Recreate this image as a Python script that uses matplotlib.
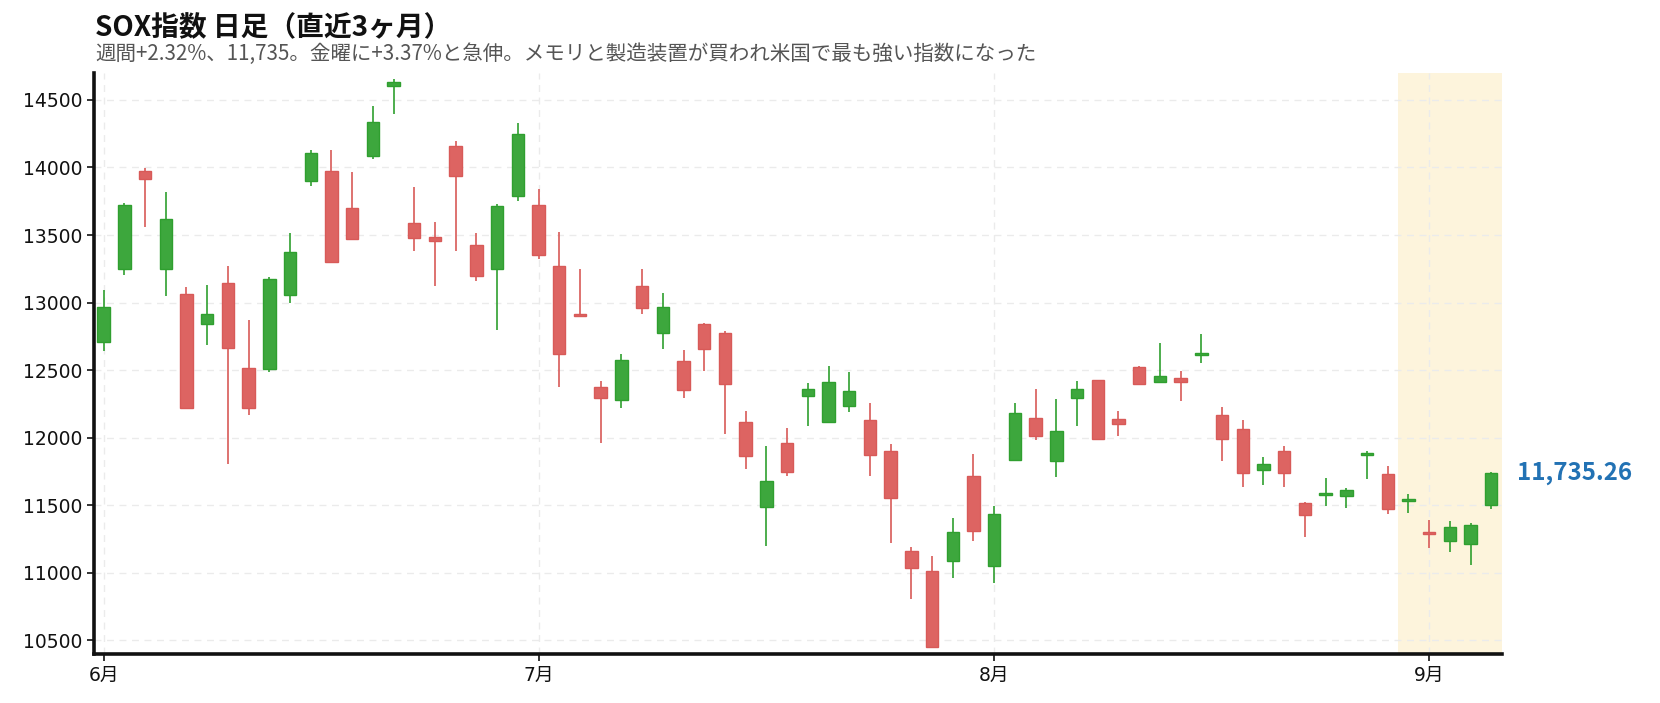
"""SOX指数 日足（直近3ヶ月）のローソク足チャート."""

import matplotlib

matplotlib.use("Agg")
import matplotlib.pyplot as plt
import numpy as np
import pandas as pd

plt.rcParams["font.family"] = ["Noto Sans CJK JP", "DejaVu Sans"]

# 米国市場の営業日（2026-06-01〜2026-09-04）
HOLIDAYS = ["2026-06-19", "2026-07-03"]
dates = pd.bdate_range("2026-06-01", "2026-09-04")
dates = dates[~dates.isin(pd.to_datetime(HOLIDAYS))]

opens = [
    12706, 13245, 13972, 13245, 13066, 12842, 13147, 12516, 12510, 13055,
    13901, 13972, 13700, 14084, 14601, 13588, 13482, 14157, 13428, 13245,
    13790, 13722, 13271, 12916, 12377, 12276, 13123, 12776, 12569, 12842,
    12776, 12118, 11483, 11956, 12310, 12118, 12236, 12133, 11897, 11158,
    11015, 11084, 11716, 11049, 11832, 12144, 11824, 12296, 12424, 12137,
    12520, 12415, 12439, 12614, 12166, 12063, 11758, 11900, 11517, 11578,
    11566, 11871, 11731, 11529, 11298, 11235, 11213, 11501,
]
highs = [
    13093, 13735, 13994, 13820, 13114, 13128, 13267, 12870, 13191, 13512,
    14130, 14130, 13966, 14459, 14652, 13858, 13599, 14195, 13517, 13730,
    14329, 13840, 13525, 13251, 12416, 12616, 13251, 13067, 12645, 12845,
    12786, 12195, 11936, 12069, 12402, 12527, 12483, 12259, 11951, 11190,
    11123, 11401, 11881, 11490, 12257, 12363, 12287, 12419, 12428, 12198,
    12530, 12702, 12496, 12769, 12223, 12132, 11859, 11940, 11520, 11704,
    11630, 11903, 11792, 11585, 11386, 11385, 11368, 11747,
]
lows = [
    12638, 13204, 13558, 13049, 12215, 12682, 11805, 12167, 12483, 12995,
    13860, 13290, 13465, 14064, 14397, 13381, 13123, 13381, 13158, 12793,
    13749, 13325, 12374, 12895, 11961, 12219, 12916, 12655, 12293, 12493,
    12025, 11766, 11197, 11717, 12084, 12115, 12190, 11717, 11222, 10801,
    10445, 10963, 11236, 10926, 11830, 11984, 11711, 12087, 11988, 12011,
    12390, 12402, 12269, 12550, 11827, 11635, 11649, 11635, 11266, 11494,
    11475, 11694, 11435, 11443, 11180, 11151, 11055, 11469,
]
closes = [
    12970, 13725, 13915, 13618, 12220, 12913, 12665, 12216, 13177, 13376,
    14105, 13297, 13471, 14339, 14633, 13479, 13457, 13937, 13199, 13713,
    14250, 13352, 12621, 12897, 12296, 12576, 12963, 12968, 12350, 12658,
    12399, 11867, 11675, 11742, 12362, 12414, 12347, 11872, 11552, 11035,
    10448, 11303, 11305, 11435, 12181, 12009, 12048, 12360, 11991, 12097,
    12400, 12454, 12415, 12624, 11991, 11736, 11804, 11736, 11426, 11593,
    11613, 11888, 11469, 11544, 11285, 11338, 11353, 11735.26,
]

TITLE = "SOX指数 日足（直近3ヶ月）"
SUBTITLE = "週間+2.32%、11,735。金曜に+3.37%と急伸。メモリと製造装置が買われ米国で最も強い指数になった"
WEEK_START = "2026-08-31"

UP_FACE, UP_EDGE = "#3da73d", "#2f9f2f"
DOWN_FACE, DOWN_EDGE = "#dd6462", "#d85a58"
TICK_FONT = ["DejaVu Sans", "Noto Sans CJK JP"]


def main() -> None:
    o = np.array(opens, dtype=float)
    h = np.array(highs, dtype=float)
    lo = np.array(lows, dtype=float)
    c = np.array(closes, dtype=float)
    x = np.arange(len(dates))
    up = c >= o

    fig = plt.figure(figsize=(16.6, 7.03), dpi=100)
    ax = fig.add_axes([0.0568, 0.0693, 0.8478, 0.8273])

    face = np.where(up, UP_FACE, DOWN_FACE)
    edge = np.where(up, UP_EDGE, DOWN_EDGE)
    ax.vlines(x, lo, h, colors=edge, linewidth=1.2, zorder=2)
    ax.bar(x, np.abs(c - o), bottom=np.minimum(o, c), width=0.6,
           color=face, edgecolor=edge, linewidth=1.0, zorder=3)

    # 直近1週間をハイライト
    wk = int(np.argmax(dates >= pd.Timestamp(WEEK_START)))
    ax.axvspan(wk - 0.5, x[-1] + 0.5, color="#f5c242", alpha=0.18, lw=0, zorder=0)

    # 月初の営業日に目盛り
    month_pos = [i for i in x if i == 0 or dates[i].month != dates[i - 1].month]
    ax.set_xticks(month_pos)
    ax.set_xticklabels([f"{dates[i].month}月" for i in month_pos])

    ax.set_xlim(-0.45, x[-1] + 0.5)
    ax.set_ylim(lo.min() - 50, h.max() + 50)
    ax.set_yticks(np.arange(10500, 14501, 500))

    ax.grid(True, linestyle=(0, (5, 4)), color="#ebebeb", linewidth=1.0, zorder=0)
    ax.set_axisbelow(True)
    for side in ("top", "right"):
        ax.spines[side].set_visible(False)
    for side in ("left", "bottom"):
        ax.spines[side].set_linewidth(2.6)
        ax.spines[side].set_color("#111111")
    ax.tick_params(axis="both", labelsize=13.5, length=5, width=1.2, colors="#111111")
    for lab in ax.get_xticklabels() + ax.get_yticklabels():
        lab.set_family(TICK_FONT)

    ax.text(1.011, c[-1], f"{c[-1]:,.2f}", transform=ax.get_yaxis_transform(),
            ha="left", va="center", fontsize=17.3, fontweight="bold", color="#2272b4")

    fig.text(0.0572, 0.949, TITLE, fontsize=20, fontweight="bold", color="#111111",
             ha="left", va="baseline")
    fig.text(0.0572, 0.9154, SUBTITLE, fontsize=14.8, color="#555555",
             ha="left", va="baseline")

    fig.savefig("out.png", dpi=100, facecolor="white")


if __name__ == "__main__":
    main()
